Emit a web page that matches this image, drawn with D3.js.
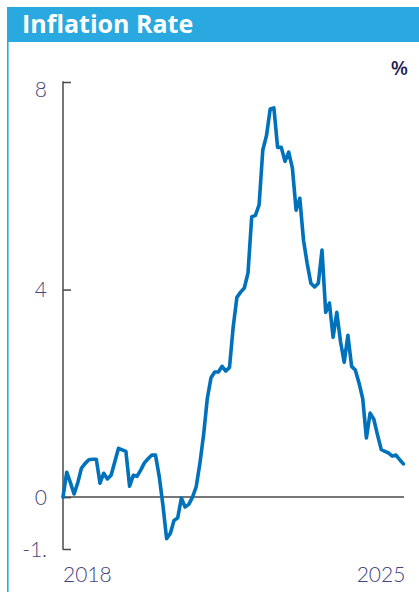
<!DOCTYPE html>
<html>
<head>
<meta charset="utf-8">
<script src="https://cdn.jsdelivr.net/npm/d3@7"></script>
<style>
  html, body { margin: 0; padding: 0; background: #fff; }
  svg { display: block; }
</style>
</head>
<body>
<svg id="chart" width="419" height="592"></svg>
<script>
// Monthly inflation rate, %, January 2018 onward
const startYear = 2018;
const inflation = [
  0.00, 0.48, 0.28, 0.06, 0.28, 0.56, 0.65, 0.72, 0.73, 0.73,
  0.27, 0.46, 0.35, 0.42, 0.68, 0.94, 0.91, 0.88, 0.21, 0.42,
  0.40, 0.52, 0.66, 0.74, 0.81, 0.81, 0.40, -0.15, -0.80, -0.70,
  -0.45, -0.40, -0.02, -0.19, -0.14, 0.00, 0.20, 0.65, 1.20, 1.90,
  2.30, 2.41, 2.41, 2.52, 2.43, 2.50, 3.28, 3.85, 3.95, 4.03,
  4.32, 5.40, 5.43, 5.63, 6.69, 6.97, 7.48, 7.50, 6.74, 6.74,
  6.47, 6.65, 6.34, 5.53, 5.76, 4.95, 4.50, 4.12, 4.05, 4.12,
  4.76, 3.56, 3.74, 3.08, 3.56, 3.00, 2.60, 3.12, 2.52, 2.45,
  2.20, 1.90, 1.14, 1.62, 1.50, 1.20, 0.92, 0.88, 0.85, 0.79,
  0.81, 0.72, 0.64
];
const yTicks = [8, 4, 0, -1];
const yTickLabels = ["8", "4", "0", "-1."];
const xLabels = ["2018", "2025"];
const title = "Inflation Rate";
const unit = "%";

const svg = d3.select("#chart");
const W = 419, H = 592;
const accent = "#29a9e0";
const lineColor = "#0071bb";
const axisColor = "#4a4a4a";
const labelColor = "#45457f";

// Header band and left rule
svg.append("rect").attr("x", 7).attr("y", 7).attr("width", W - 7).attr("height", 35).attr("fill", accent);
svg.append("rect").attr("x", 7).attr("y", 42).attr("width", 1.6).attr("height", H - 42).attr("fill", accent);
svg.append("text")
  .attr("x", 22).attr("y", 33)
  .attr("fill", "#fff")
  .attr("font-family", "'Open Sans', sans-serif")
  .attr("font-weight", 700)
  .attr("font-size", 25)
  .text(title);

svg.append("text")
  .attr("x", 408).attr("y", 75)
  .attr("text-anchor", "end")
  .attr("fill", "#1f1f55")
  .attr("font-family", "'Open Sans', sans-serif")
  .attr("font-weight", 600)
  .attr("font-size", 20)
  .text(unit);

// Scales
const x = d3.scaleLinear().domain([0, inflation.length - 1]).range([63, 403.4]);
const y = d3.scaleLinear().domain([-1, 8]).range([549, 82]);

// Y axis: vertical rule with short inward ticks
const yAxis = d3.axisRight(y).tickValues(yTicks).tickSize(8).tickFormat("");
const gy = svg.append("g").attr("transform", "translate(63,0)").call(yAxis);
gy.select(".domain").remove();
gy.selectAll(".tick line").attr("stroke", axisColor).attr("stroke-width", 1.5);
svg.append("line")
  .attr("x1", 63).attr("x2", 63)
  .attr("y1", y(8) - 0.75).attr("y2", y(-1) + 0.75)
  .attr("stroke", axisColor).attr("stroke-width", 1.5);

// Tick labels
svg.append("g").selectAll("text")
  .data(yTicks)
  .join("text")
  .attr("x", 47)
  .attr("y", d => Math.max(y(d), 89))
  .attr("dy", "0.36em")
  .attr("text-anchor", "end")
  .attr("fill", labelColor)
  .attr("font-family", "Lato, sans-serif")
  .attr("font-weight", 300)
  .attr("font-size", 21)
  .text((d, i) => yTickLabels[i]);

// Zero baseline
svg.append("line")
  .attr("x1", 63).attr("x2", 404)
  .attr("y1", y(0)).attr("y2", y(0))
  .attr("stroke", axisColor).attr("stroke-width", 1.5);

// Series line
const line = d3.line().x((d, i) => x(i)).y(d => y(d)).curve(d3.curveLinear);
svg.append("path")
  .datum(inflation)
  .attr("d", line)
  .attr("fill", "none")
  .attr("stroke", lineColor)
  .attr("stroke-width", 3.6)
  .attr("stroke-linejoin", "round")
  .attr("stroke-linecap", "round");

// X labels at first and last month
svg.append("g").selectAll("text")
  .data(xLabels)
  .join("text")
  .attr("x", (d, i) => i === 0 ? x(0) : x(inflation.length - 1) + 2)
  .attr("y", 582)
  .attr("text-anchor", (d, i) => i === 0 ? "start" : "end")
  .attr("fill", labelColor)
  .attr("font-family", "Lato, sans-serif")
  .attr("font-weight", 300)
  .attr("font-size", 21)
  .text(d => d);
</script>
</body>
</html>
